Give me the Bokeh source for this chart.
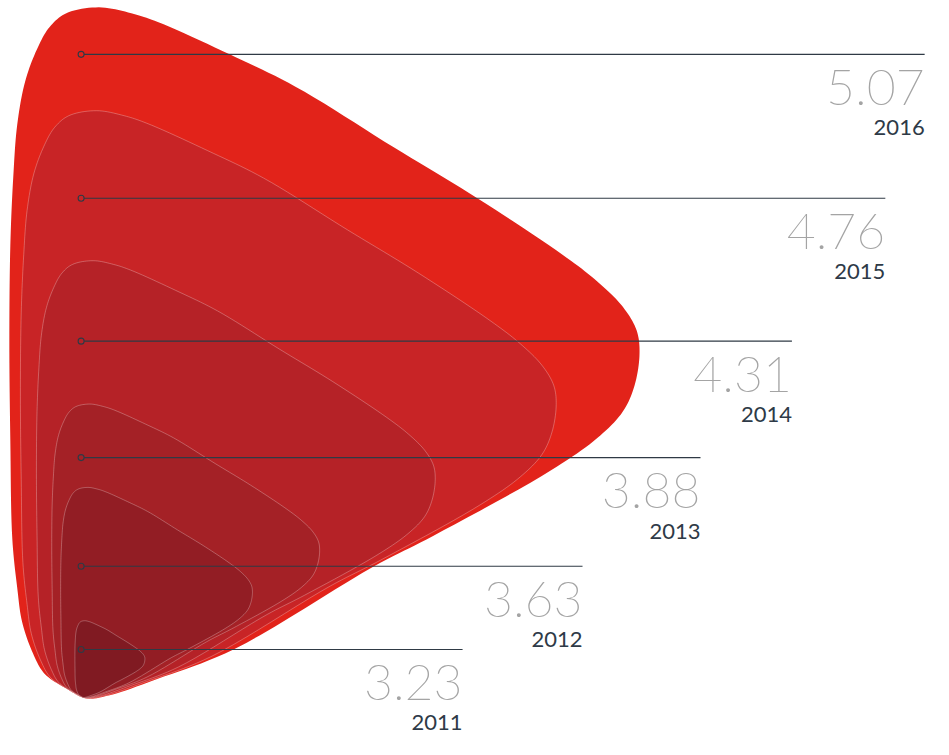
import numpy as np
from bokeh.plotting import figure
from bokeh.models import ColumnDataSource, Range1d
from bokeh.core.properties import value
from bokeh.embed import file_html
from bokeh.resources import INLINE

# ---- data ----
years = ["2011", "2012", "2013", "2014", "2015", "2016"]
values = [3.23, 3.63, 3.88, 4.31, 4.76, 5.07]
value_labels = [f"{v:.2f}" for v in values]

# ---- layout (screen-like data space, 949 x 755 units) ----
base_value = 3.0                      # value at which a shape shrinks to nothing
anchor = (84.0, 712.0)                # common bottom point of all shapes
dot_x = 82.0
line_y = [663, 578, 467, 348, 202, 55]
line_end = [470, 592, 712, 805, 900, 940]
colors = ["#801a22", "#921d24", "#a42126", "#b52227", "#c82426", "#e2231a"]

# outline of the largest shape (2016), clockwise from bottom
template = np.array([
    (87, 713), (67, 703), (45, 688), (33, 667), (22, 635), (17, 600), (12, 550),
    (10, 450), (9, 350), (10, 250), (13, 180), (17, 127), (25, 83), (37, 50),
    (50, 27), (67, 13), (100, 7), (133, 13), (160, 22), (233, 55), (300, 88),
    (400, 150), (485, 202), (572, 260), (607, 287), (633, 313), (647, 337),
    (650, 360), (645, 393), (633, 420), (607, 447), (560, 480), (440, 547),
    (380, 578), (237, 663), (160, 693), (110, 710),
], dtype=float)


def catmull_rom_closed(pts, n=10, alpha=0.5):
    out = []
    m = len(pts)
    for i in range(m):
        p0, p1, p2, p3 = pts[(i - 1) % m], pts[i], pts[(i + 1) % m], pts[(i + 2) % m]
        t0 = 0.0
        t1 = t0 + np.linalg.norm(p1 - p0) ** alpha
        t2 = t1 + np.linalg.norm(p2 - p1) ** alpha
        t3 = t2 + np.linalg.norm(p3 - p2) ** alpha
        for t in np.linspace(t1, t2, n, endpoint=False):
            a1 = (t1 - t) / (t1 - t0) * p0 + (t - t0) / (t1 - t0) * p1
            a2 = (t2 - t) / (t2 - t1) * p1 + (t - t1) / (t2 - t1) * p2
            a3 = (t3 - t) / (t3 - t2) * p2 + (t - t2) / (t3 - t2) * p3
            b1 = (t2 - t) / (t2 - t0) * a1 + (t - t0) / (t2 - t0) * a2
            b2 = (t3 - t) / (t3 - t1) * a2 + (t - t1) / (t3 - t1) * a3
            out.append((t2 - t) / (t2 - t1) * b1 + (t - t1) / (t2 - t1) * b2)
    return np.array(out)


outline = catmull_rom_closed(template)
vmax = max(values)
xs, ys = [], []
for v in values:
    s = (v - base_value) / (vmax - base_value)
    xs.append(list(anchor[0] + (outline[:, 0] - anchor[0]) * s))
    ys.append(list(anchor[1] + (outline[:, 1] - anchor[1]) * s))

# draw largest first
order = list(range(len(values)))[::-1]
shape_src = ColumnDataSource(dict(
    xs=[xs[i] for i in order],
    ys=[ys[i] for i in order],
    color=[colors[i] for i in order],
    la=[0.0 if values[i] == vmax else 0.35 for i in order],
))

p = figure(width=933, height=739, output_backend="svg", toolbar_location=None,
           x_range=Range1d(0, 949), y_range=Range1d(755, 0),
           min_border=0, outline_line_color=None)
p.axis.visible = False
p.grid.visible = False
p.background_fill_color = "white"

p.patches(xs="xs", ys="ys", fill_color="color", line_color="white",
          line_alpha="la", line_width=0.8, source=shape_src)

lab_src = ColumnDataSource(dict(
    x0=[dot_x + 3] * len(values), x=[dot_x] * len(values), y=line_y, x1=line_end,
    vy=[y + 34 for y in line_y], yy=[y + 75 for y in line_y],
    val=value_labels, year=years,
))
p.segment(x0="x0", y0="y", x1="x1", y1="y", line_color="#2f3a45",
          line_width=1.1, source=lab_src)
p.scatter(x="x", y="y", marker="circle", size=6, fill_color=None,
          line_color="#2f3a45", line_width=1.1, source=lab_src)
p.text(x="x1", y="vy", text="val", text_align="right", text_baseline="middle",
       text_font=value("Lato Thin"), text_font_size="50px", text_color="#a4a4a4",
       source=lab_src)
p.text(x="x1", y="yy", text="year", text_align="right", text_baseline="middle",
       text_font=value("Lato"), text_font_size="22px", text_color="#2e3a47",
       source=lab_src)

open("out.html", "w").write(file_html(p, INLINE))
